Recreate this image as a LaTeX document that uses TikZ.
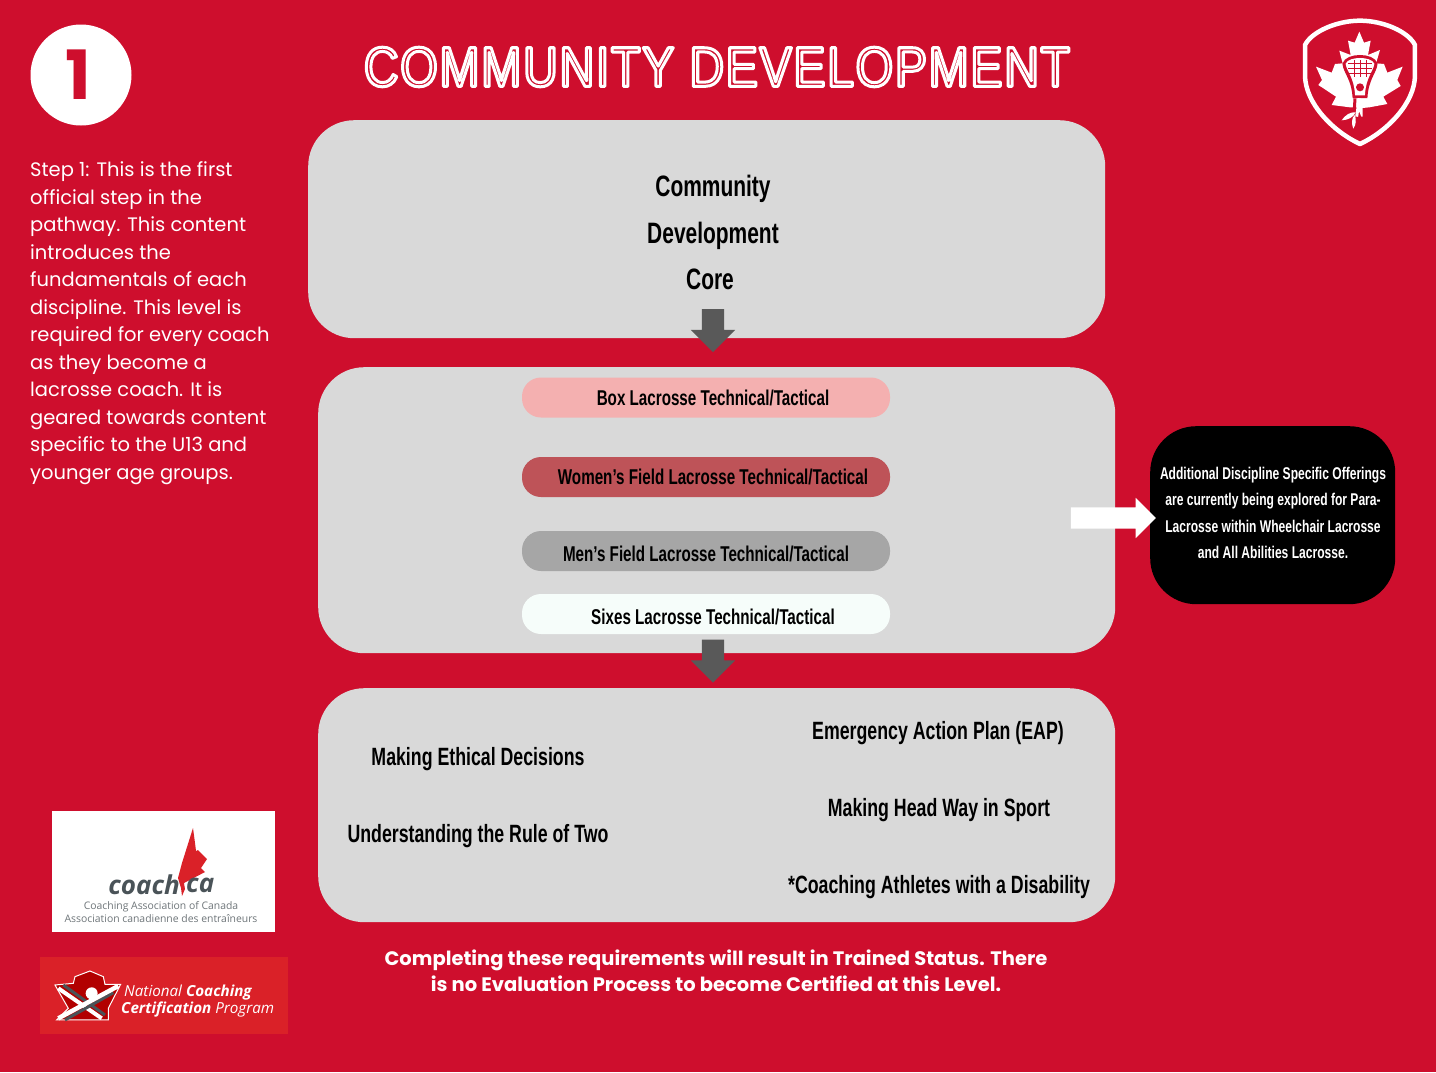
\documentclass[tikz,border=0pt]{standalone}
\usepackage{fontspec}
\usetikzlibrary{shapes.arrows,arrows.meta}
\setmainfont{Poppins}
\newfontfamily\narrowfont[FakeStretch=0.71]{Liberation Sans}
\newfontfamily\titlefont[FakeStretch=0.86,LetterSpace=3]{Liberation Sans}
\newfontfamily\logofont{Open Sans}
\definecolor{pagered}{HTML}{CE0E2D}
\definecolor{panelgrey}{HTML}{D9D9D9}
\definecolor{arrowgrey}{HTML}{595959}
\definecolor{boxpink}{HTML}{F4B0B0}
\definecolor{womenred}{HTML}{BE5358}
\definecolor{mengrey}{HTML}{A6A6A6}
\definecolor{sixeswhite}{HTML}{F6FDFA}
\definecolor{nccpred}{HTML}{DA2128}
\definecolor{leafred}{HTML}{DA2128}
\definecolor{logogrey}{HTML}{4A5358}
\tikzset{
    panel/.style={draw=none, fill=panelgrey, rounded corners=46, anchor=north west},
    pill/.style={rounded corners=19, minimum width=368, minimum height=40},
    pilltext/.style={font=\narrowfont\bfseries\fontsize{21.4}{25}\selectfont, text=black},
    label/.style={font=\narrowfont\bfseries\fontsize{25}{30}\selectfont, text=black},
    corelabel/.style={font=\narrowfont\bfseries\fontsize{29.5}{35}\selectfont, text=black},
    downarrow/.style={single arrow, fill=arrowgrey, rotate=-90, minimum height=43, inner xsep=0, inner ysep=11, single arrow head extend=11}
}
\begin{document}
\begin{tikzpicture}[x=1pt, y=-1pt]
    \useasboundingbox (0,0) rectangle (1436,1072);
    \fill[pagered] (0,0) rectangle (1436,1072);
    % heading
    \node[circle, fill=white, minimum size=101, inner sep=0] (stepdot) at (81,75) {};
    \node[font=\fontsize{68}{68}\selectfont\bfseries, text=pagered] (stepnum) at (78,75) {1};
    \node[font=\titlefont\fontsize{56}{56}\selectfont, text=white] (title) at (717,67) {\special{pdf:code q 1 Tr 3 w 1 j 1 J 1 1 1 RG}COMMUNITY DEVELOPMENT\special{pdf:code Q}};
    % left text
    \node[anchor=north west, text=white, align=left, inner sep=0, font=\fontsize{19.5}{27.5}\selectfont] (steptext) at (30,161.5) {Step 1: This is the first\\official step in the\\pathway. This content\\introduces the\\fundamentals of each\\discipline. This level is\\required for every coach\\as they become a\\lacrosse coach. It is\\geared towards content\\specific to the U13 and\\younger age groups.};
    % panels
    \node[panel, minimum width=797, minimum height=218] (corepanel) at (308,120) {};
    \node[panel, minimum width=797, minimum height=286] (techpanel) at (318,367) {};
    \node[panel, minimum width=797, minimum height=234] (ethicspanel) at (318,688) {};
    \node[corelabel] (core1) at (713,189) {Community};
    \node[corelabel] (core2) at (713,236) {Development};
    \node[corelabel] (core3) at (710,279.5) {Core};
    % pills
    \node[pill, fill=boxpink] (box) at (706,397.5) {};
    \node[pill, fill=womenred] (women) at (706,477) {};
    \node[pill, fill=mengrey] (men) at (706,551) {};
    \node[pill, fill=sixeswhite] (sixes) at (706,614) {};
    \node[pilltext] (boxtext) at (713,398) {Box Lacrosse Technical/Tactical};
    \node[pilltext] (womentext) at (713,477) {Women’s Field Lacrosse Technical/Tactical};
    \node[pilltext] (mentext) at (706,554) {Men’s Field Lacrosse Technical/Tactical};
    \node[pilltext] (sixestext) at (713,617) {Sixes Lacrosse Technical/Tactical};
    \node[downarrow] (arrowone) at (713,325) {};
    \node[downarrow] (arrowtwo) at (713,655.5) {};
    % lower panel
    \node[label] (ethics) at (478,759) {Making Ethical Decisions};
    \node[label] (ruletwo) at (478,836) {Understanding the Rule of Two};
    \node[label] (eap) at (938,733) {Emergency Action Plan (EAP)};
    \node[label] (headway) at (939,810) {Making Head Way in Sport};
    \node[label] (disability) at (939,887) {*Coaching Athletes with a Disability};
    % side note
    \node[fill=black, rounded corners=46, minimum width=245, minimum height=178, anchor=north west] (offerings) at (1150,426) {};
    \node[text=white, align=center, font=\narrowfont\bfseries\fontsize{17}{26.3}\selectfont] (offertext) at (1273,513) {Additional Discipline Specific Offerings\\are currently being explored for Para-\\Lacrosse within Wheelchair Lacrosse\\and All Abilities Lacrosse.};
    \node[single arrow, fill=white, minimum height=85, inner xsep=0, inner ysep=10.5, single arrow head extend=9.5] (sidearrow) at (1108,518) {};
    % bottom text
    \node[text=white, align=center, font=\bfseries\fontsize{19.5}{26}\selectfont] (bottomnote) at (716,971) {Completing these requirements will result in Trained Status. There\\is no Evaluation Process to become Certified at this Level.};
    % coach logo
    \node[fill=white, minimum width=223, minimum height=121, anchor=north west] (coachbox) at (52,811) {};
    \fill[leafred] (193,828) -- (195,843) -- (196,851) -- (198,850) -- (207,859) -- (201,868) -- (205,872) -- (184,883) -- (185,889) -- (182,896) -- (181,888) -- (178,878) -- (182,863) -- cycle;
    \node[font=\logofont\bfseries\itshape\fontsize{26}{26}\selectfont, text=logogrey, anchor=east, inner sep=0] (coachname) at (180,885) {coach};
    \node[font=\logofont\bfseries\itshape\fontsize{26}{26}\selectfont, text=logogrey, anchor=west, inner sep=0] (caname) at (186,885) {ca};
    \node[font=\logofont\fontsize{10.4}{13}\selectfont, text=logogrey!80, align=center] (coachsub) at (161,912) {Coaching Association of Canada\\Association canadienne des entra\^ineurs};
    % nccp logo
    \node[fill=nccpred, minimum width=248, minimum height=77, anchor=north west] (nccpbox) at (40,957) {};
    \begin{scope}[shift={(30,800)}, x=0.3333pt, y=-0.3333pt]
        \draw[white, line width=1, fill=red!70!black] (75,555) -- (130,550) -- (135,530) -- (180,513) -- (220,530) -- (225,553) -- (272,553) -- (235,625) -- (235,660) -- (80,660) -- (115,625) -- cycle;
        \draw[logogrey, line width=3] (100,555) -- (225,645);
        \draw[white, line width=4] (85,565) -- (215,655);
        \draw[logogrey, line width=3] (250,578) -- (105,660);
        \draw[white, line width=4.5] (265,558) -- (85,655);
        \fill[white] (185,580) circle (18);
    \end{scope}
    \node[text=white, anchor=west, inner sep=0, font=\logofont\itshape\fontsize{15.2}{15}\selectfont] (nccpone) at (124,993) {National \textbf{Coaching}};
    \node[text=white, anchor=west, inner sep=0, font=\logofont\itshape\fontsize{15.2}{15}\selectfont] (nccptwo) at (121,1009.5) {\textbf{Certification} Program};
    % crest
    \begin{scope}[shift={(1280,0)}, x=0.3333pt, y=-0.3333pt]
        \draw[white, line width=4.5, line join=round] (240,62) .. controls (310,62) and (385,95) .. (405,135) -- (405,225) .. controls (405,310) and (320,395) .. (240,432) .. controls (160,395) and (75,310) .. (75,225) -- (75,135) .. controls (95,95) and (170,62) .. cycle;
        \fill[white] (238,95) -- (252,128) -- (272,122) -- (264,165) -- (300,150) -- (288,190) -- (312,192) -- (322,218) -- (368,200) -- (352,240) -- (362,258) -- (310,290) -- (322,312) -- (268,322) -- (248,324) -- (248,350) -- (244,350) -- (232,322) -- (210,322) -- (155,315) -- (168,290) -- (115,255) -- (126,240) -- (108,200) -- (155,218) -- (165,192) -- (188,190) -- (178,152) -- (212,165) -- (204,122) -- (224,128) -- cycle;
        % stick head
        \draw[pagered, line width=3, fill=pagered] (192,192) .. controls (200,162) and (280,162) .. (288,192) .. controls (285,218) and (262,235) .. (258,290) -- (222,290) .. controls (218,235) and (195,218) .. (192,192) -- cycle;
        \draw[white, line width=2, fill=white] (200,192) .. controls (208,172) and (272,172) .. (280,192) .. controls (277,212) and (255,232) .. (252,283) -- (228,283) .. controls (225,232) and (203,212) .. (200,192) -- cycle;
        \foreach \netx in {222,240,258} {
            \draw[pagered, line width=1] (\netx,180) -- (\netx,232);
        }
        \foreach \nety in {192,207,222} {
            \draw[pagered, line width=1] (204,\nety) -- (276,\nety);
        }
        \fill[pagered] (240,262) circle (12);
        \draw[pagered, line width=3] (225,295) -- (222,345);
        \draw[white, line width=3] (238,295) -- (230,350);
        \fill[white] (227,337) .. controls (212,335) and (195,345) .. (185,361) .. controls (205,360) and (220,352) .. cycle;
        \fill[white] (224,345) .. controls (213,355) and (215,375) .. (220,386) .. controls (228,375) and (230,358) .. cycle;
    \end{scope}
\end{tikzpicture}
\end{document}
